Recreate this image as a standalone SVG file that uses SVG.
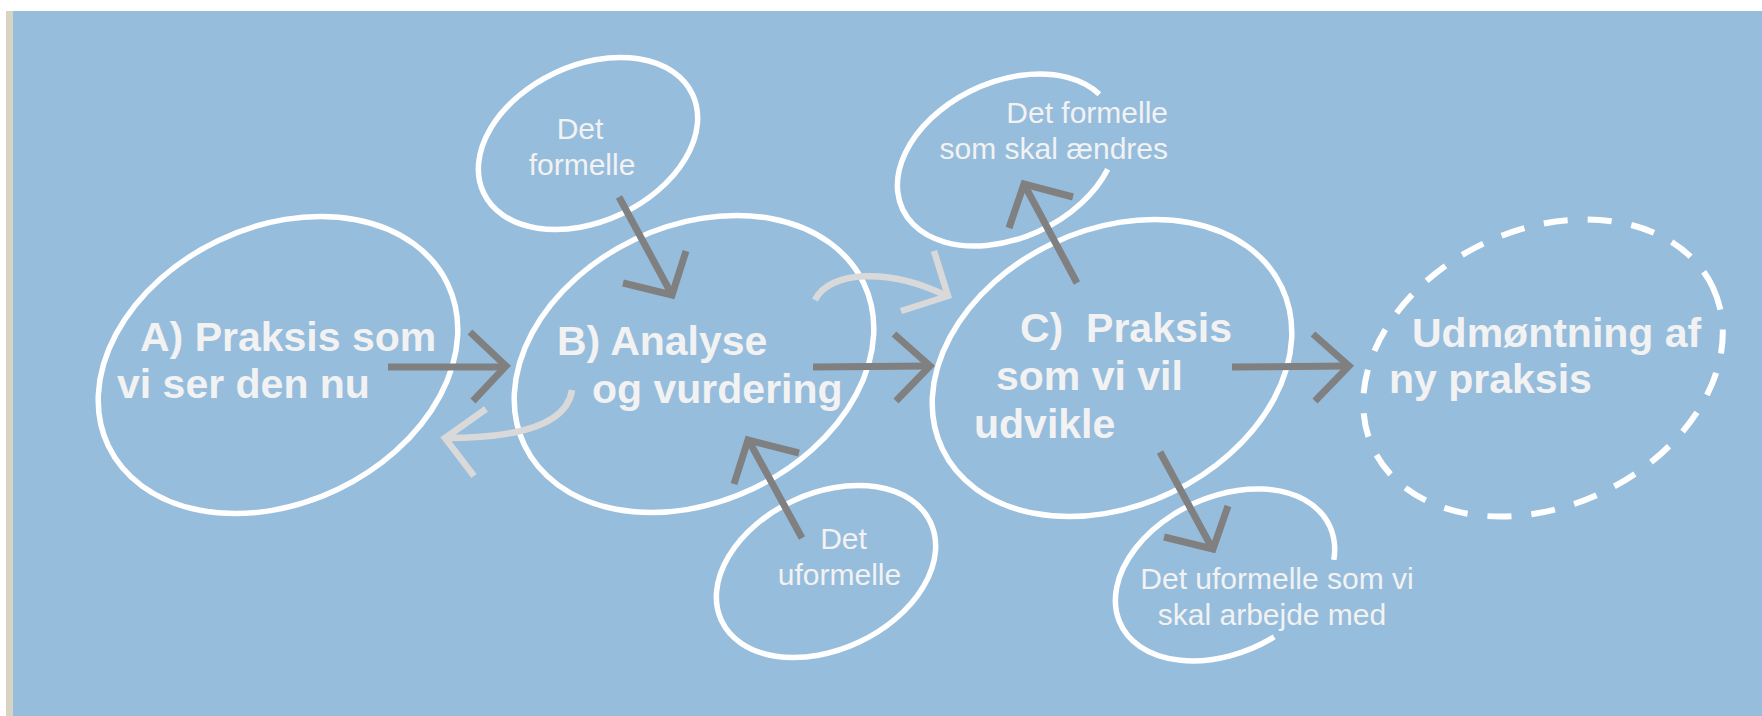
<svg xmlns="http://www.w3.org/2000/svg" width="1762" height="716" viewBox="0 0 1762 716">
<style>
.bg{fill:#97BDDD}
.big{fill:none;stroke:#FFFFFF;stroke-width:5.5}
.dash{fill:none;stroke:#FFFFFF;stroke-width:6;stroke-dasharray:24 20}
.small{fill:none;stroke:#FFFFFF;stroke-width:5.5}
.tb{font-family:"Liberation Sans",Arial,sans-serif;font-weight:bold;font-size:41px;fill:#F2F2F2}
.tr{font-family:"Liberation Sans",Arial,sans-serif;font-size:30px;fill:#F2F2F2}
.dk{fill:none;stroke:#808080;stroke-width:7;stroke-linejoin:miter}
.lt{fill:none;stroke:#D9D9D9;stroke-width:6.5;stroke-linejoin:miter}
</style>
<rect x="0" y="0" width="1762" height="716" fill="#FFFFFF"/>
<rect x="6" y="11" width="7" height="705" fill="#D9D3C3"/>
<rect class="bg" x="13" y="11" width="1749" height="705"/>

<g id="node-a">
<ellipse class="big" cx="278" cy="365" rx="188" ry="138" transform="rotate(-25.5 278 365)"/>
<text class="tb" x="140" y="351">A) Praksis som</text>
<text class="tb" x="117" y="398">vi ser den nu</text>
</g>

<g id="node-b">
<ellipse class="big" cx="694" cy="364" rx="188" ry="138" transform="rotate(-25.5 694 364)"/>
<text class="tb" x="557" y="355">B) Analyse</text>
<text class="tb" x="592" y="403">og vurdering</text>
</g>

<g id="node-c">
<ellipse class="big" cx="1112" cy="368" rx="188" ry="138" transform="rotate(-25.5 1112 368)"/>
<text class="tb" x="1020" y="342" xml:space="preserve">C)  Praksis</text>
<text class="tb" x="996" y="390">som vi vil</text>
<text class="tb" x="974" y="438">udvikle</text>
</g>

<g id="node-d">
<ellipse class="dash" cx="1543" cy="368" rx="188" ry="138" transform="rotate(-25.5 1543 368)"/>
<text class="tb" x="1412" y="347">Udmøntning af</text>
<text class="tb" x="1389" y="393">ny praksis</text>
</g>

<g id="node-formelle">
<ellipse class="small" cx="588" cy="143.5" rx="115.5" ry="78" transform="rotate(-25.2 588 143.5)"/>
<text class="tr" x="580" y="139" text-anchor="middle">Det</text>
<text class="tr" x="582" y="175" text-anchor="middle">formelle</text>
</g>

<g id="node-uformelle">
<ellipse class="small" cx="826" cy="571.5" rx="115.5" ry="78" transform="rotate(-25.2 826 571.5)"/>
<text class="tr" x="843.5" y="549" text-anchor="middle">Det</text>
<text class="tr" x="839.5" y="585" text-anchor="middle">uformelle</text>
</g>

<g id="node-formelle-aendres">
<path class="small" transform="translate(1007 160) rotate(-25.2)" d="M87.2 51.2 A115.5 78 0 1 1 111.6 -20.2"/>
<text class="tr" x="1168" y="123" text-anchor="end">Det formelle</text>
<text class="tr" x="1168" y="159" text-anchor="end">som skal ændres</text>
</g>

<g id="node-uformelle-arbejde">
<path class="small" transform="translate(1225 575) rotate(-25.2)" d="M18.1 77 A115.5 78 0 1 1 104.9 32.7"/>
<text class="tr" x="1277" y="589" text-anchor="middle">Det uformelle som vi</text>
<text class="tr" x="1272" y="625" text-anchor="middle">skal arbejde med</text>
</g>

<g id="connectors">
<line class="dk" x1="388" y1="367" x2="505" y2="367"/>
<polyline class="dk" points="470,332 506,366 473,401"/>

<line class="dk" x1="813" y1="367" x2="929" y2="366"/>
<polyline class="dk" points="894,334 930,366 896,401"/>

<line class="dk" x1="1232" y1="367" x2="1348" y2="366"/>
<polyline class="dk" points="1313,334 1349,366 1315,401"/>

<line class="dk" x1="619" y1="197" x2="671" y2="293"/>
<polyline class="dk" points="623,283 672,295 686,251"/>

<line class="dk" x1="802" y1="538" x2="749" y2="441"/>
<polyline class="dk" points="734,484 748,440 799,453"/>

<line class="dk" x1="1077" y1="283" x2="1025" y2="186"/>
<polyline class="dk" points="1009,228 1024,184 1073,197"/>

<line class="dk" x1="1160" y1="452" x2="1212" y2="548"/>
<polyline class="dk" points="1164,537 1213,549 1228,506"/>

<path class="lt" d="M572 390 Q565 438 446 438"/>
<polyline class="lt" points="486,409 445,438 474,476"/>

<path class="lt" d="M815 300 C830 270 890 268 947 296"/>
<polyline class="lt" points="934,251 948,296 901,311"/>
</g>
</svg>
